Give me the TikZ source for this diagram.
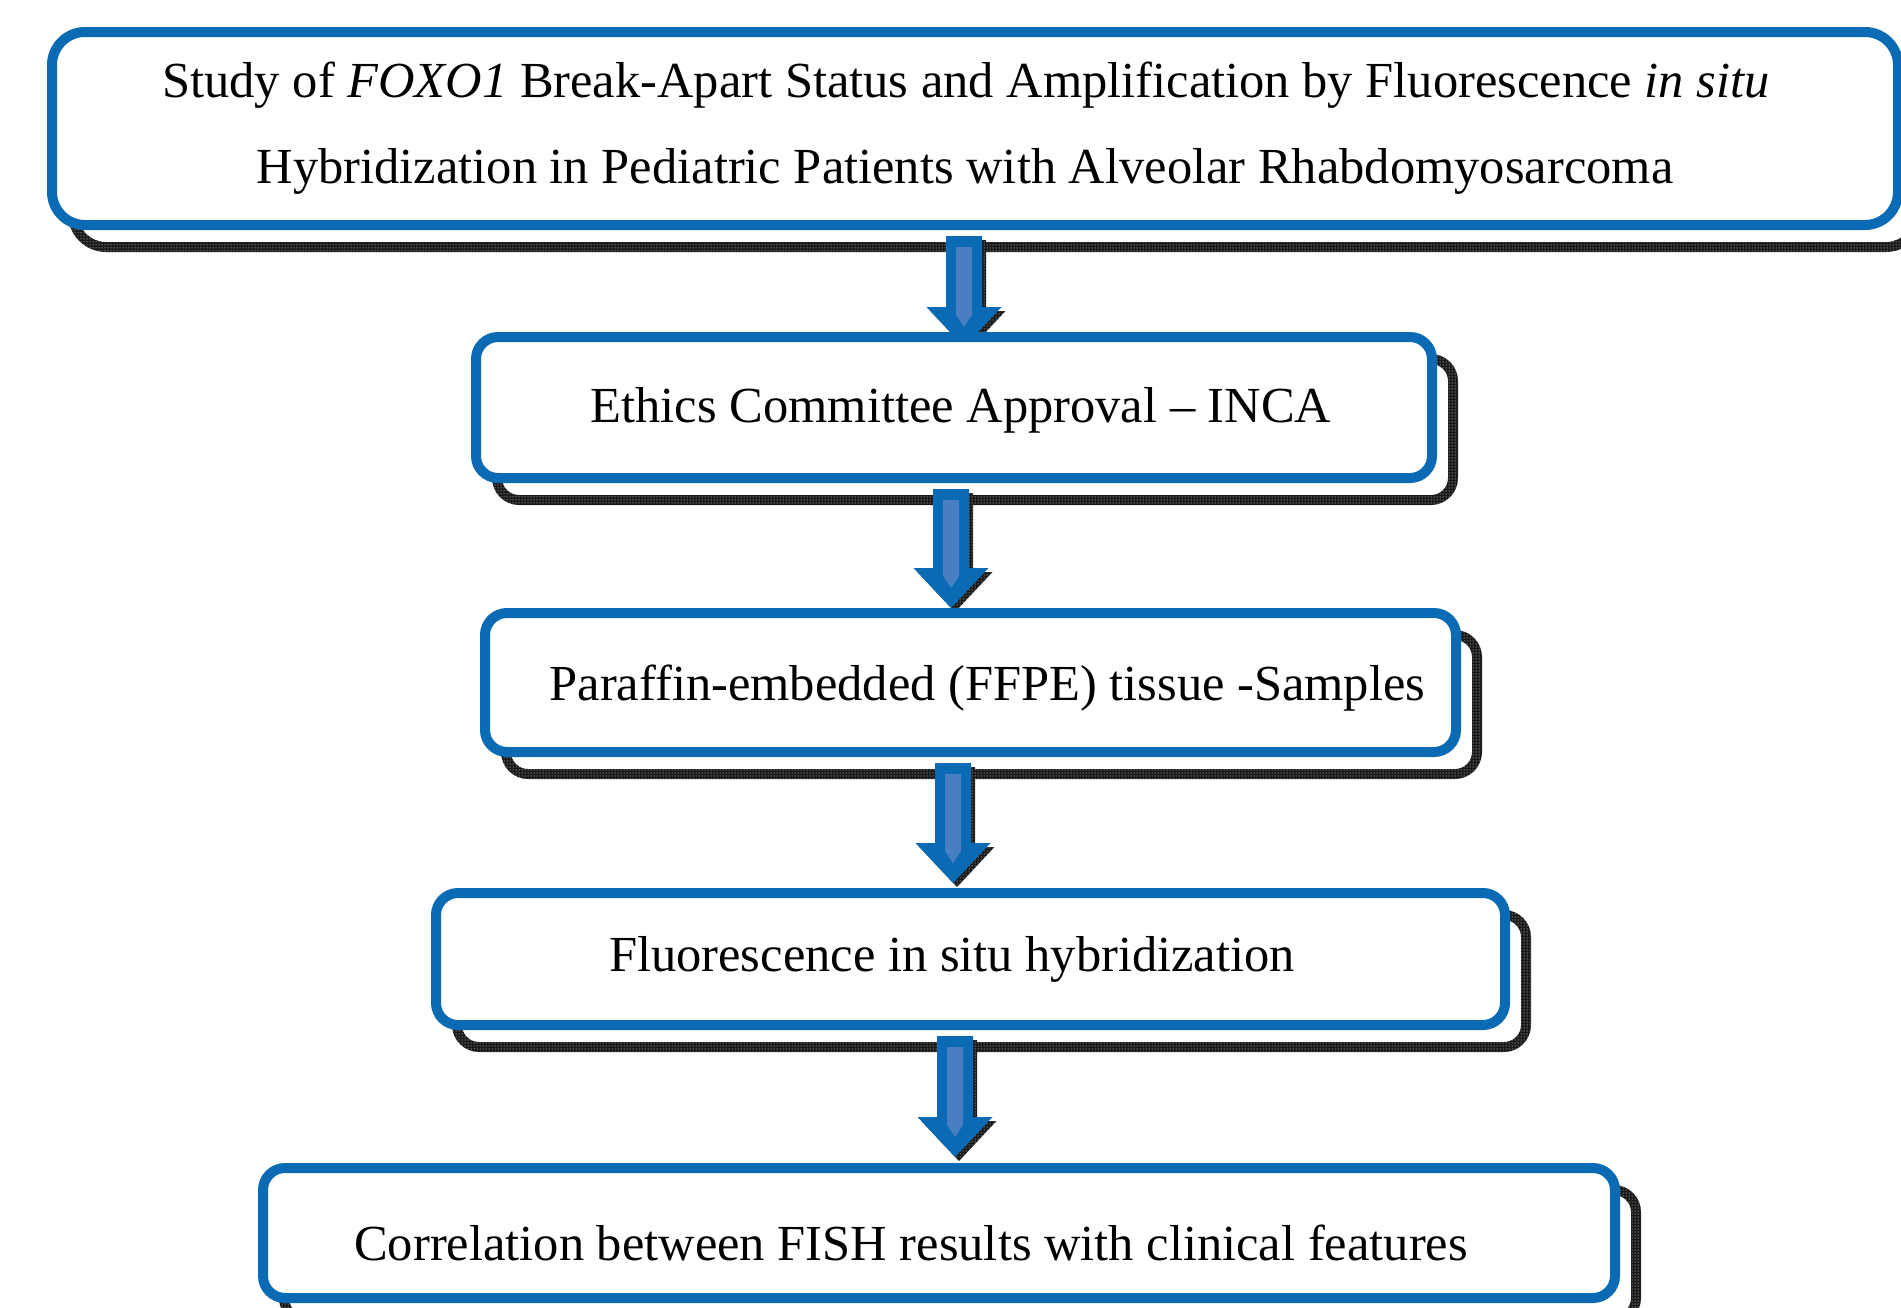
\documentclass[tikz,border=0pt]{standalone}
\usepackage{fontspec}
\setmainfont{Liberation Serif}
\usetikzlibrary{calc,patterns}
\definecolor{boxblue}{RGB}{11,106,180}
\definecolor{stripeblue}{RGB}{74,126,194}
\pgfdeclarelayer{shadowlayer}
\pgfdeclarelayer{arrowlayer}
\pgfsetlayers{shadowlayer,arrowlayer,main}
\tikzset{
  flowbox/.style={draw=boxblue, line width=10pt, fill=white, rounded corners=22pt, inner sep=0pt},
  flowtext/.style={anchor=base, inner sep=0pt, font=\fontsize{50.5}{60}\selectfont},
  shadowblack/.style={fill=black!90, even odd rule},
  shadowdots/.style={pattern=dots, pattern color=white, even odd rule},
}
% #1 node, #2 outer radius, #3 inner radius
\newcommand{\boxshadow}[3]{%
  \begin{pgfonlayer}{shadowlayer}
    \fill[shadowblack] [rounded corners=#2] ($(#1.south west)+(21,-22)$) rectangle ($(#1.north east)+(21,-22)$)
      [rounded corners=#3] ($(#1.south west)+(31,-12)$) rectangle ($(#1.north east)+(11,-32)$);
    \fill[shadowdots] [rounded corners=#2] ($(#1.south west)+(21,-22)$) rectangle ($(#1.north east)+(21,-22)$)
      [rounded corners=#3] ($(#1.south west)+(31,-12)$) rectangle ($(#1.north east)+(11,-32)$);
  \end{pgfonlayer}}
% #1 source node, #2 target node, #3 x centre (pt), #4 tip offset below target top (pt)
\newcommand{\blockarrow}[4]{%
  \begin{pgfonlayer}{shadowlayer}
    \fill[black!90] let \p1=(#1.south), \p2=(#2.north) in
      (#3pt-14pt,\y1-10pt) -- (#3pt+22pt,\y1-10pt) -- (#3pt+22pt,\y2-#4pt+36pt) -- (#3pt+41.5pt,\y2-#4pt+36pt)
      -- (#3pt+4pt,\y2-#4pt-4pt) -- (#3pt-33.5pt,\y2-#4pt+36pt) -- (#3pt-14pt,\y2-#4pt+36pt) -- cycle;
    \fill[pattern=dots, pattern color=white] let \p1=(#1.south), \p2=(#2.north) in
      (#3pt-14pt,\y1-10pt) -- (#3pt+22pt,\y1-10pt) -- (#3pt+22pt,\y2-#4pt+36pt) -- (#3pt+41.5pt,\y2-#4pt+36pt)
      -- (#3pt+4pt,\y2-#4pt-4pt) -- (#3pt-33.5pt,\y2-#4pt+36pt) -- (#3pt-14pt,\y2-#4pt+36pt) -- cycle;
  \end{pgfonlayer}
  \begin{pgfonlayer}{arrowlayer}
    \fill[boxblue] let \p1=(#1.south), \p2=(#2.north) in
      (#3pt-18pt,\y1-6pt) -- (#3pt+18pt,\y1-6pt) -- (#3pt+18pt,\y2-#4pt+40pt) -- (#3pt+37.5pt,\y2-#4pt+40pt)
      -- (#3pt,\y2-#4pt) -- (#3pt-37.5pt,\y2-#4pt+40pt) -- (#3pt-18pt,\y2-#4pt+40pt) -- cycle;
    \fill[stripeblue] let \p1=(#1.south), \p2=(#2.north) in
      (#3pt-8pt,\y1-17pt) -- (#3pt+8pt,\y1-17pt) -- (#3pt+8pt,\y2-#4pt+32pt)
      -- (#3pt,\y2-#4pt+20pt) -- (#3pt-8pt,\y2-#4pt+32pt) -- cycle;
  \end{pgfonlayer}}
\begin{document}
\begin{tikzpicture}[x=1pt,y=1pt]
\useasboundingbox (0,0) rectangle (1901,-1307);
% boxes
\node[flowbox, rounded corners=33pt, minimum width=1846pt, minimum height=193pt] (b1) at (975,-128.5) {};
\node[flowbox, minimum width=956pt, minimum height=141pt] (b2) at (954,-407.5) {};
\node[flowbox, minimum width=971pt, minimum height=139pt] (b3) at (970.5,-682.5) {};
\node[flowbox, minimum width=1069pt, minimum height=132pt] (b4) at (970.5,-959) {};
\node[flowbox, minimum width=1352pt, minimum height=130pt] (b5) at (939,-1233) {};
% shadows
\boxshadow{b1}{38pt}{28pt}
\boxshadow{b2}{27pt}{17pt}
\boxshadow{b3}{27pt}{17pt}
\boxshadow{b4}{27pt}{17pt}
\boxshadow{b5}{27pt}{17pt}
% texts
\node[flowtext] (t1a) at (966,-97) {Study of \textit{FOXO1} Break-Apart Status and Amplification by Fluorescence \textit{in situ}};
\node[flowtext] (t1b) at (965,-183) {Hybridization in Pediatric Patients with Alveolar Rhabdomyosarcoma};
\node[flowtext] (t2) at (961,-422) {Ethics Committee Approval – INCA};
\node[flowtext] (t3) at (987.5,-700) {Paraffin-embedded (FFPE) tissue -Samples};
\node[flowtext] (t4) at (952,-971) {Fluorescence in situ hybridization};
\node[flowtext] (t5) at (911,-1260) {Correlation between FISH results with clinical features};
% arrows
\blockarrow{b1}{b2}{964}{15}
\blockarrow{b2}{b3}{951}{0}
\blockarrow{b3}{b4}{953}{-5}
\blockarrow{b4}{b5}{955}{-6}
\end{tikzpicture}
\end{document}
